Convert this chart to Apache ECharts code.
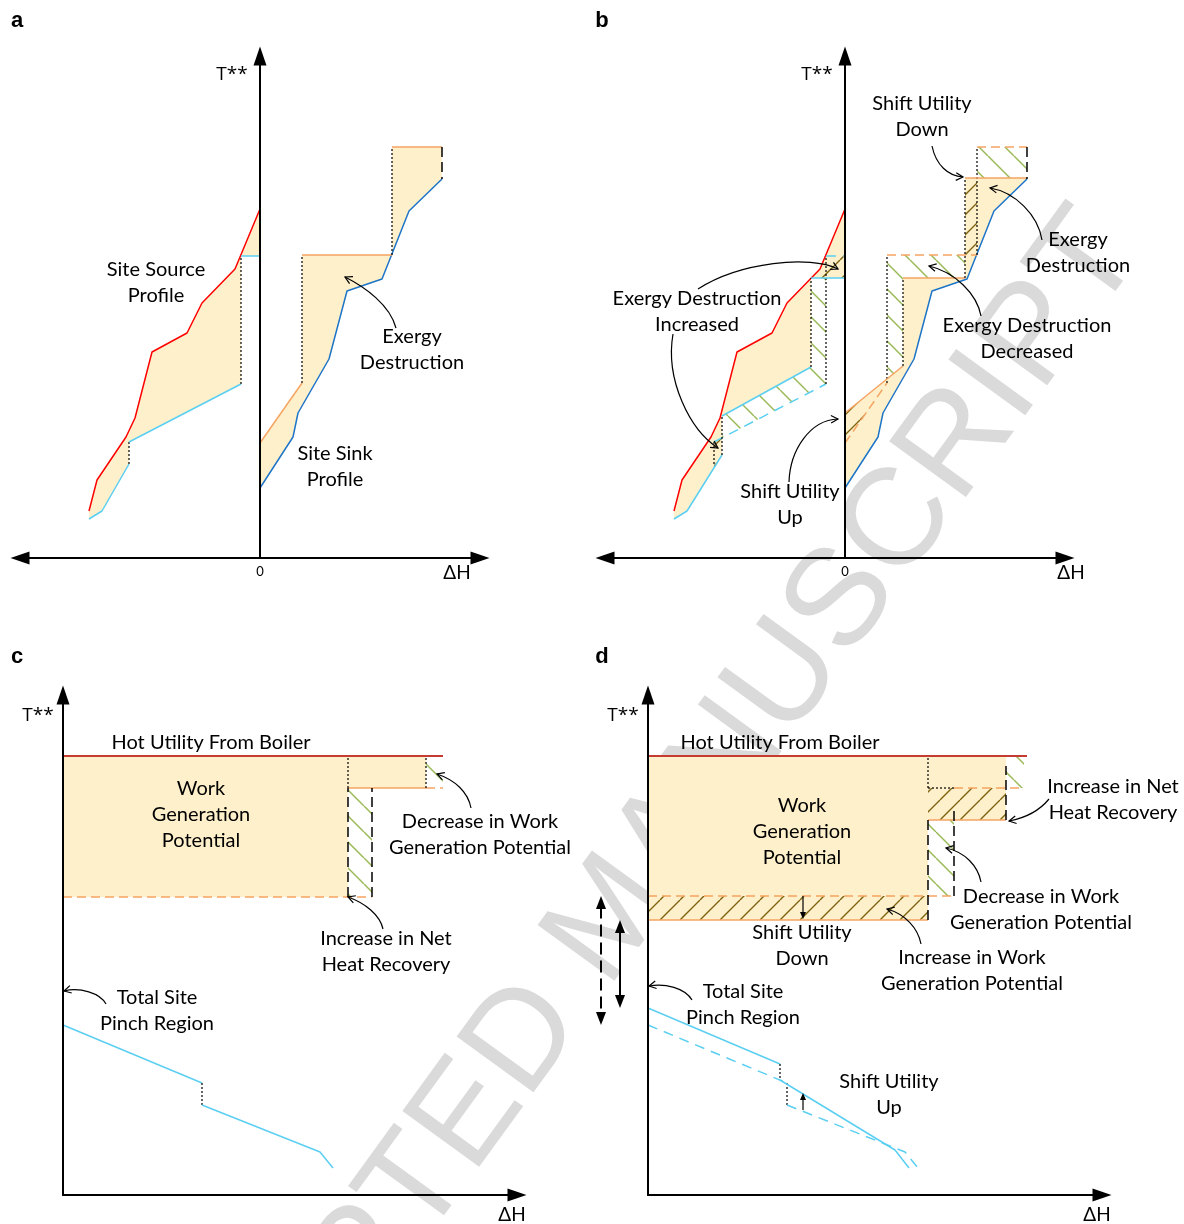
<!DOCTYPE html>
<html><head><meta charset="utf-8">
<script src="https://cdn.jsdelivr.net/npm/echarts@6.0.0/dist/echarts.min.js"></script>
<style>html,body{margin:0;padding:0;background:#fff}#chart{width:1184px;height:1224px}</style>
</head><body><div id="chart"></div>
<script>
// ---------------- DATA (ΔH , T** units; origin at each panel's axis crossing) ----------------
// Panels a & b share the original profiles
const SRC_HOT   = [[-171,47],[-163,78],[-134,121],[-125,140],[-108,206],[-73,225],[-58,255],[-25,289],[0,349]];
const SINK_COLD = [[0,70],[33,121],[38,145],[69,199],[87,267],[122,279],[149,347],[182,379]];
const A_SRC_COLD  = [[-171,39],[-158,47],[-131,94],[-131,116],[-19,174],[-19,302],[0,302]];
const A_SINK_HOT  = [[0,115],[42,175],[42,303],[132,303],[132,411],[182,411]];
const A_SINK_END  = [[182,411],[182,379]];
// Panel b: shifted utilities
const B_SRC_COLD  = [[-171,39],[-158,47],[-123,103],[-123,142],[-34,191],[-34,280],[0,280]];
const B_SINK_HOT  = [[0,145],[58,192],[58,280],[120,280],[120,380],[182,380]];
const B_INCREASED = [
  [[-19,303],[0,303],[0,280],[-34,280],[-25,289]],
  [[-131,116],[-123,120],[-123,103],[-131,90]],
  [[120,303],[132,303],[132,380],[120,380]],
  [[0,145],[42,179],[42,175],[0,115]]
];
const B_DECREASED = [
  [[-123,142],[-34,191],[-34,280],[-19,280],[-19,174],[-123,120]],
  [[42,179],[42,303],[120,303],[120,280],[58,280],[58,192]],
  [[132,380],[132,411],[182,411],[182,380]]
];
// Panel c
const C_HOT_UTIL = [[0,439],[380,439]];
const C_WGP      = [[0,439],[363,439],[363,407],[285,407],[285,298],[0,298]];
const C_DECREASE = [[[285,298],[309,298],[309,407],[285,407]],[[363,407],[380,407],[380,439],[363,439]]];
const C_LEVEL_SOLID  = [[[285,407],[363,407]]];
const C_LEVEL_DASHED = [[[0,298],[309,298]],[[363,407],[380,407]]];
const C_BLACK_DASHED = [[[285,298],[285,407]],[[309,298],[309,407]]];
const C_DOTTED       = [[[285,407],[285,439]],[[363,407],[363,439]]];
const C_PINCH        = [[0,170],[139,112],[139,90],[257,43],[270,27]];
// Panel d
const D_HOT_UTIL = [[0,439],[379,439]];
const D_WGP      = [[0,439],[358,439],[358,375],[280,375],[280,275],[0,275]];
const D_INCREASE = [[[0,275],[280,275],[280,299],[0,299]],[[280,375],[358,375],[358,407],[280,407]]];
const D_DECREASE = [[[358,407],[376,407],[376,439],[358,439]],[[280,299],[306,299],[306,375],[280,375]]];
const D_LEVEL_SOLID  = [[[0,275],[280,275]],[[280,375],[358,375]]];
const D_LEVEL_DASHED = [[[0,299],[306,299]],[[306,407],[376,407]]];
const D_BLACK_DASHED = [[[358,375],[358,429]],[[306,299],[306,388]],[[280,275],[280,375]]];
const D_DOTTED       = [[[280,407],[306,407]],[[280,407],[280,439]],[[-47,299],[0,299]],[[-28,275],[0,275]],[[-28,187],[0,187]],[[-47,170],[0,170]]];
const D_PINCH_NEW    = [[0,187],[132,131],[132,115],[247,45],[261,27]];
const D_SHIFT_ARROWS = [[155,299,155,276],[155,85,155,102]];
const D_RANGE_DASHED = [[-47,299,-47,170]];
const D_RANGE_SOLID  = [[-28,275,-28,187]];
// Curved annotation arrows: start, control1, control2, end
const A_ARROWS = [[136,230,130,253,105,271,85,281]];
const B_ARROWS = [[87,412,91,393,103,382,118,381],[197,318,193,343,170,366,145,370],[136,242,132,264,110,286,84,292],
                  [-147,269,-105,296,-35,303,-7,289],[-172,224,-180,178,-155,128,-127,110],[-56,76,-55,108,-35,138,-7,139]];
const C_ARROWS = [[408,387,405,403,392,415,374,421],[320,266,317,280,302,292,285,298],[43,191,37,202,17,208,1,204]];
const D_ARROWS = [[401,396,392,385,377,377,361,374],[333,313,330,329,317,343,298,347],[273,251,270,267,257,281,239,286],[44,195,37,207,17,212,1,209]];
// Texts
const A_TEXT = [[-104,275,'Site Source\nProfile'],[152,208,'Exergy\nDestruction'],[75,91,'Site Sink\nProfile']];
const B_TEXT = [[77,441,'Shift Utility\nDown'],[233,305,'Exergy\nDestruction'],[-148,246,'Exergy Destruction\nIncreased'],
                [182,219,'Exergy Destruction\nDecreased'],[-55,53,'Shift Utility\nUp']];
const C_TEXT = [[148,452,'Hot Utility From Boiler'],[138,380,'Work\nGeneration\nPotential'],[417,360,'Decrease in Work\nGeneration Potential'],
                [323,243,'Increase in Net\nHeat Recovery'],[94,184,'Total Site\nPinch Region']];
const D_TEXT = [[132,452,'Hot Utility From Boiler'],[154,363,'Work\nGeneration\nPotential'],[465,395,'Increase in Net\nHeat Recovery'],
                [393,285,'Decrease in Work\nGeneration Potential'],[154,249,'Shift Utility\nDown'],[324,224,'Increase in Work\nGeneration Potential'],
                [95,190,'Total Site\nPinch Region'],[241,100,'Shift Utility\nUp']];
const AXIS_T = [[-28,483,'T**'],[-28,483,'T**'],[-25,479,'T**'],[-25,479,'T**']];
const AXIS_H = [[197,-15,'ΔH'],[226,-15,'ΔH'],[449,-20,'ΔH'],[449,-20,'ΔH']];
const X_RANGE = [[-240,220],[-240,220],[0,454],[0,454]];
const Y_RANGE = [[0,502],[0,502],[0,500],[0,500]];
const PANEL_LETTERS = ['a','b','c','d'];

// ---------------- STYLE ----------------
const FONT = 'Lato, "Noto Sans", sans-serif';
const COL = {red:'#FF0000', hot:'#C43B31', cyan:'#5BCFF2', blue:'#1E75C7', orange:'#F5A462', fill:'#FEF0CB',
             green:'#9BBB59', brown:'#7F6410', black:'#000000'};
const DOT = [2,2], DASH_OR = [9,5], DASH_CY = [10,7], DASH_BK = [10,5];

function hatch(color, dir, P, lw) {
  const c = document.createElement('canvas'); c.width = P; c.height = P;
  const g = c.getContext('2d'); g.strokeStyle = color; g.lineWidth = lw;
  g.beginPath();
  for (let k = -1; k <= 1; k++) {
    if (dir === '\\') { g.moveTo(k*P, 0); g.lineTo(k*P+P, P); }
    else { g.moveTo(k*P+P, 0); g.lineTo(k*P, P); }
  }
  g.stroke();
  return {image: c, repeat: 'repeat'};
}
const GREEN_HATCH = hatch(COL.green, '\\', 26, 1.5);
const BROWN_HATCH = hatch(COL.brown, '/', 20, 1.4);

const rev = a => a.slice().reverse();
const series = [];
const add = s => series.push(Object.assign({silent:true, animation:false}, s));

function polygon(gi, pts, fill, z) {
  add({type:'custom', xAxisIndex:gi, yAxisIndex:gi, clip:false, z:z, data:pts,
    renderItem(params, api) {
      if (params.dataIndex !== 0) return null;
      return {type:'polygon', shape:{points: pts.map(p => api.coord(p))}, style:{fill: fill, stroke: null}};
    }});
}
function line(gi, pts, color, width, type, z) {
  add({type:'line', xAxisIndex:gi, yAxisIndex:gi, data:pts, showSymbol:false, symbol:'none', clip:false,
       z: z || 3, emphasis:{disabled:true}, lineStyle:{color, width, type, cap:'butt'}});
}
function lines(gi, list, color, width, type) { list.forEach(p => line(gi, p, color, width, type)); }
function stepPath(gi, path, color, type) {
  let run = [path[0]];
  for (let i = 0; i < path.length - 1; i++) {
    const a = path[i], b = path[i+1];
    if (a[0] === b[0]) {
      if (run.length > 1) line(gi, run, color, 1.5, type);
      line(gi, [a, b], COL.black, 1.2, DOT);
      run = [b];
    } else run.push(b);
  }
  if (run.length > 1) line(gi, run, color, 1.5, type);
}
function curvedArrows(gi, list) {
  add({type:'custom', xAxisIndex:gi, yAxisIndex:gi, clip:false, z:4, data:list,
    renderItem(params, api) {
      const p = [0,2,4,6].map(i => api.coord([api.value(i), api.value(i+1)]));
      const [a,b,c,d] = p;
      const ang = Math.atan2(d[1]-c[1], d[0]-c[0]), L = 8, s = 0.5;
      const h1 = [d[0]-L*Math.cos(ang-s), d[1]-L*Math.sin(ang-s)];
      const h2 = [d[0]-L*Math.cos(ang+s), d[1]-L*Math.sin(ang+s)];
      return {type:'group', children:[
        {type:'bezierCurve', shape:{x1:a[0],y1:a[1],cpx1:b[0],cpy1:b[1],cpx2:c[0],cpy2:c[1],x2:d[0],y2:d[1]},
         style:{stroke:'#000', fill:null, lineWidth:1.2}},
        {type:'polyline', shape:{points:[h1,d,h2]}, style:{stroke:'#000', fill:null, lineWidth:1.2}}
      ]};
    }});
}
function straightArrows(gi, list, o) {
  add({type:'custom', xAxisIndex:gi, yAxisIndex:gi, clip:false, z:4, data:list,
    renderItem(params, api) {
      const a = api.coord([api.value(0), api.value(1)]), b = api.coord([api.value(2), api.value(3)]);
      const dx = b[0]-a[0], dy = b[1]-a[1], L = Math.hypot(dx, dy), ux = dx/L, uy = dy/L, px = -uy, py = ux;
      const head = (t, sx, sy) => ({type:'polygon', shape:{points:[t,
        [t[0]-sx*o.hl+px*o.hw/2, t[1]-sy*o.hl+py*o.hw/2], [t[0]-sx*o.hl-px*o.hw/2, t[1]-sy*o.hl-py*o.hw/2]]},
        style:{fill:'#000'}});
      const st = o.both ? [a[0]+ux*o.hl*0.8, a[1]+uy*o.hl*0.8] : a;
      const en = [b[0]-ux*o.hl*0.8, b[1]-uy*o.hl*0.8];
      const ch = [{type:'line', shape:{x1:st[0], y1:st[1], x2:en[0], y2:en[1]},
                   style:{stroke:'#000', lineWidth:o.w, lineDash:o.dash || null}}, head(b, ux, uy)];
      if (o.both) ch.push(head(a, -ux, -uy));
      return {type:'group', children:ch};
    }});
}
function labels(gi, list, size, family) {
  add({type:'custom', xAxisIndex:gi, yAxisIndex:gi, clip:false, z:5, data:list.map(t => [t[0], t[1]]),
    renderItem(params, api) {
      const p = api.coord([api.value(0), api.value(1)]);
      return {type:'text', x:p[0], y:p[1], style:{text:list[params.dataIndex][2], fill:'#000', fontSize:size,
              fontFamily:family || FONT, align:'center', verticalAlign:'middle', lineHeight:26}};
    }});
}

// ---------------- PANEL a ----------------
polygon(0, SRC_HOT.concat(rev(A_SRC_COLD)), COL.fill, 1);
polygon(0, A_SINK_HOT.concat(rev(SINK_COLD)), COL.fill, 1);
line(0, SRC_HOT, COL.red, 1.5, 'solid');
line(0, SINK_COLD, COL.blue, 1.5, 'solid');
stepPath(0, A_SRC_COLD, COL.cyan, 'solid');
stepPath(0, A_SINK_HOT, COL.orange, 'solid');
line(0, A_SINK_END, COL.black, 1.5, DASH_BK);
curvedArrows(0, A_ARROWS);
labels(0, A_TEXT, 20);

// ---------------- PANEL b ----------------
polygon(1, SRC_HOT.concat(rev(B_SRC_COLD)), COL.fill, 1);
polygon(1, B_SINK_HOT.concat(rev(SINK_COLD)), COL.fill, 1);
B_INCREASED.forEach(p => polygon(1, p, BROWN_HATCH, 2));
B_DECREASED.forEach(p => polygon(1, p, GREEN_HATCH, 2));
line(1, SRC_HOT, COL.red, 1.5, 'solid');
line(1, SINK_COLD, COL.blue, 1.5, 'solid');
stepPath(1, A_SRC_COLD.slice(2), COL.cyan, DASH_CY);
stepPath(1, B_SRC_COLD, COL.cyan, 'solid');
stepPath(1, A_SINK_HOT, COL.orange, DASH_OR);
stepPath(1, B_SINK_HOT, COL.orange, 'solid');
line(1, A_SINK_END, COL.black, 1.5, DASH_BK);
curvedArrows(1, B_ARROWS);
labels(1, B_TEXT, 20);

// ---------------- PANEL c ----------------
polygon(2, C_WGP, COL.fill, 1);
C_DECREASE.forEach(p => polygon(2, p, GREEN_HATCH, 2));
line(2, C_HOT_UTIL, COL.hot, 2, 'solid');
lines(2, C_LEVEL_SOLID, COL.orange, 1.5, 'solid');
lines(2, C_LEVEL_DASHED, COL.orange, 1.5, DASH_OR);
lines(2, C_BLACK_DASHED, COL.black, 1.5, DASH_BK);
lines(2, C_DOTTED, COL.black, 1.2, DOT);
stepPath(2, C_PINCH, COL.cyan, 'solid');
curvedArrows(2, C_ARROWS);
labels(2, C_TEXT, 20);

// ---------------- PANEL d ----------------
polygon(3, D_WGP, COL.fill, 1);
D_INCREASE.forEach(p => polygon(3, p, BROWN_HATCH, 2));
D_DECREASE.forEach(p => polygon(3, p, GREEN_HATCH, 2));
line(3, D_HOT_UTIL, COL.hot, 2, 'solid');
lines(3, D_LEVEL_SOLID, COL.orange, 1.5, 'solid');
lines(3, D_LEVEL_DASHED, COL.orange, 1.5, DASH_OR);
lines(3, D_BLACK_DASHED, COL.black, 1.5, DASH_BK);
lines(3, D_DOTTED, COL.black, 1.2, DOT);
stepPath(3, C_PINCH, COL.cyan, DASH_CY);
stepPath(3, D_PINCH_NEW, COL.cyan, 'solid');
straightArrows(3, D_SHIFT_ARROWS, {w:1.2, hl:7, hw:6, both:false});
straightArrows(3, D_RANGE_DASHED, {w:2, hl:13, hw:10, both:true, dash:[12,6]});
straightArrows(3, D_RANGE_SOLID, {w:2, hl:13, hw:10, both:true});
curvedArrows(3, D_ARROWS);
labels(3, D_TEXT, 20);

AXIS_T.forEach((t, i) => labels(i, [t], 19, '"Open Sans", "Noto Sans", sans-serif'));
AXIS_H.forEach((t, i) => labels(i, [t], 19));

// ---------------- AXES ----------------
const GRIDS = [
  {left:20, top:56, width:460, height:502},
  {left:605, top:56, width:460, height:502},
  {left:63, top:695, width:454, height:500},
  {left:648, top:695, width:454, height:500}
];
const xAxis = GRIDS.map((g, i) => ({
  type:'value', gridIndex:i, min:X_RANGE[i][0], max:X_RANGE[i][1], z:6,
  splitLine:{show:false}, axisTick:{show:false},
  axisLabel: i < 2 ? {show:true, customValues:[0], formatter: v => (v === 0 ? '0' : ''), margin:7,
                      fontSize:13, color:'#000', fontFamily:FONT} : {show:false},
  axisLine:{show:true, onZero:true, symbol: i < 2 ? ['triangle','triangle'] : ['none','triangle'],
            symbolSize:[13,19], lineStyle:{color:'#000', width:2}}
}));
const yAxis = GRIDS.map((g, i) => ({
  type:'value', gridIndex:i, min:Y_RANGE[i][0], max:Y_RANGE[i][1], z:6,
  splitLine:{show:false}, axisTick:{show:false}, axisLabel:{show:false},
  axisLine:{show:true, onZero:true, symbol:['none','triangle'], symbolSize:[13,19], lineStyle:{color:'#000', width:2}}
}));

const LETTER_POS = [[17,21],[602,21],[17,657],[602,657]];
const graphic = [{
  type:'text', x:613, y:918, rotation:54*Math.PI/180, z:0, silent:true,
  style:{text:'ACCEPTED MANUSCRIPT', fontSize:138, fontFamily:'"Liberation Sans", Arial, sans-serif',
         fill:'#DADADA', align:'center', verticalAlign:'middle'}
}].concat(PANEL_LETTERS.map((l, i) => ({
  type:'text', x:LETTER_POS[i][0], y:LETTER_POS[i][1], z:10, silent:true,
  style:{text:l, fontSize:22, fontWeight:'bold', fontFamily:'"Liberation Sans", Arial, sans-serif',
         fill:'#000', align:'center', verticalAlign:'middle'}
})));

const chart = echarts.init(document.getElementById('chart'), null, {renderer:'canvas', width:1184, height:1224});
chart.setOption({
  animation:false,
  backgroundColor:'#ffffff',
  grid: GRIDS.map(g => Object.assign({containLabel:false, outerBoundsMode:'none'}, g)),
  xAxis, yAxis, series, graphic
});
</script></body></html>
